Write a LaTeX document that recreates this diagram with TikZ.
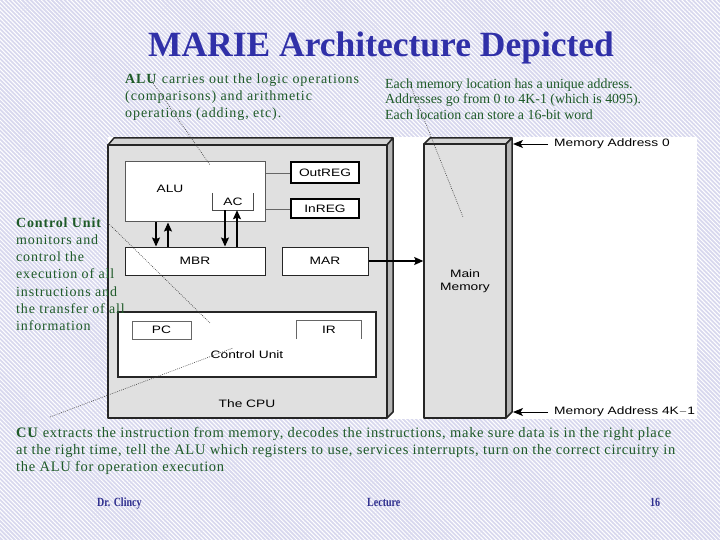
\documentclass[tikz,border=0pt]{standalone}
\usepackage{fontspec}
\setmainfont{Liberation Serif}
\newfontfamily\diagfont[FakeStretch=1.28]{Liberation Sans}
\newfontfamily\spacedfont[LetterSpace=6]{Liberation Serif}
\newfontfamily\looseserif[LetterSpace=6.5]{Liberation Serif}
\newfontfamily\cuserif[LetterSpace=4.75]{Liberation Serif}
\newfontfamily\footfont[FakeStretch=0.8]{Liberation Serif}
\usetikzlibrary{arrows.meta,patterns.meta}
\definecolor{bgl}{HTML}{D8D8EE}
\definecolor{titleblue}{HTML}{3030A8}
\definecolor{footblue}{HTML}{2E2E8E}
\definecolor{notegreen}{HTML}{1E5A28}
\definecolor{boxgray}{HTML}{E0E0E0}
\definecolor{topgray}{HTML}{D4D4D4}
\definecolor{sidegray}{HTML}{B4B4B4}
\tikzset{
  dlabel/.style={font=\diagfont\fontsize{10.75}{13}\selectfont, inner sep=0pt, align=center},
  wbox/.style={draw=black!85, fill=white, line width=1pt, inner sep=0pt, font=\diagfont\fontsize{10.75}{13}\selectfont},
  regbox/.style={wbox, draw=black, line width=1.5pt},
  thinbox/.style={wbox, draw=black!60},
  busarrow/.style={line width=1.1pt, -{Stealth[length=9pt,width=8pt,inset=1.5pt]}},
  addrarrow/.style={line width=0.9pt, -{Stealth[length=10pt,width=8pt,inset=2.5pt]}},
  wire/.style={draw=black!60, line width=0.8pt},
  note/.style={text=notegreen, align=left, inner sep=0pt, anchor=base west},
  pointer/.style={draw=black!75, line width=0.6pt, dash pattern=on 0.8pt off 1.2pt},
  edge3d/.style={draw=black!85, line width=1.5pt, line join=round}
}
\begin{document}
\begin{tikzpicture}[x=1pt,y=-1pt]
\useasboundingbox (0,0) rectangle (720,540);
% background
\fill[bgl] (0,0) rectangle (720,540);
\fill[pattern={Lines[angle=-45,distance=3pt,line width=1pt]}, pattern color=white] (0,0) rectangle (720,540);
\fill[white] (108,137) rectangle (697,419);

% title
\node[font=\fontsize{35.5}{40}\selectfont\bfseries, text=titleblue, anchor=base, inner sep=0pt] (title) at (381,57) {MARIE Architecture Depicted};

% CPU 3D box
\filldraw[edge3d, fill=topgray] (108,145) -- (114,138) -- (393,138) -- (387,145) -- cycle;
\filldraw[edge3d, fill=sidegray] (387,145) -- (393,138) -- (393,412) -- (387,418) -- cycle;
\node[edge3d, fill=boxgray, minimum width=279pt, minimum height=273pt, inner sep=0pt] (cpu) at (247.5,281.5) {};
\node[dlabel] (cpulabel) at (247,404) {The CPU};

% ALU and AC
\node[wbox, draw=black!65, minimum width=140pt, minimum height=60pt] (alu) at (195,192) {};
\node[dlabel] (alulabel) at (170,189) {ALU};
\node[dlabel, minimum width=40pt, minimum height=17pt] (ac) at (233,201.5) {AC};
\draw[wire, draw=black!70] (ac.north west) -- (ac.south west) -- (ac.south east) -- (ac.north east);

% OutREG / InREG
\node[regbox, minimum width=68pt, minimum height=21pt] (outreg) at (325,172.5) {OutREG};
\node[regbox, minimum width=68pt, minimum height=19pt] (inreg) at (325,208.5) {InREG};
\coordinate (yout) at (0,173);
\coordinate (yin) at (0,209);
\draw[wire] (alu.east |- yout) -- (outreg.west |- yout);
\draw[wire] (alu.east |- yin) -- (inreg.west |- yin);

% MBR / MAR
\node[wbox, minimum width=140pt, minimum height=28pt] (mbr) at (195,261) {MBR};
\node[wbox, minimum width=86pt, minimum height=28pt] (mar) at (325,261) {MAR};

\coordinate (xa) at (156,0);
\coordinate (xb) at (168,0);
\coordinate (xc) at (225,0);
\coordinate (xd) at (237,0);
\draw[busarrow] (alu.south -| xa) -- (mbr.north -| xa);
\draw[busarrow] (mbr.north -| xb) -- (alu.south -| xb);
\draw[busarrow] (ac.south -| xc) -- (mbr.north -| xc);
\draw[busarrow] (mbr.north -| xd) -- (ac.south -| xd);

% Control unit
\node[wbox, line width=1.3pt, minimum width=258pt, minimum height=65pt] (cu) at (247,344.5) {};
\node[thinbox, minimum width=59pt, minimum height=18pt] (pc) at (161.5,330) {PC};
\node[dlabel, minimum width=64pt, minimum height=18pt] (ir) at (329,330) {IR};
\draw[wire, line width=1pt] (ir.south west) -- (ir.north west) -- (ir.north east) -- (ir.south east);
\node[dlabel] (culabel) at (247,355) {Control Unit};

% Main memory
\filldraw[edge3d, fill=topgray] (424,144) -- (430,138) -- (512,138) -- (506,144) -- cycle;
\filldraw[edge3d, fill=sidegray] (506,144) -- (512,138) -- (512,412) -- (506,418) -- cycle;
\node[edge3d, fill=boxgray, minimum width=82pt, minimum height=274pt, inner sep=0pt, font=\diagfont\fontsize{10.75}{12.5}\selectfont, align=center] (mem) at (465,281) {Main\\Memory};

\draw[busarrow] (mar.east) -- (mem.west |- mar.east);

% memory addresses
\node[dlabel, anchor=west, inner xsep=6pt] (ma0) at (548,144) {Memory Address 0};
\node[dlabel, anchor=west, inner xsep=6pt] (ma1) at (548,412) {Memory Address 4K$-$1};
\coordinate (m0) at (513,144);
\coordinate (m1) at (513,412);
\draw[addrarrow] (ma0.west) -- (m0);
\draw[addrarrow] (ma1.west) -- (m1);

% notes (anchor base = baseline of the last line)
\node[note, font=\looseserif\fontsize{14}{17}\selectfont] (alunote) at (125,118)
  {\textbf{ALU} carries out the logic operations\\(comparisons) and arithmetic\\operations (adding, etc).};
\node[note, font=\fontsize{13.9}{15.5}\selectfont] (memnote) at (385,119.5)
  {Each memory location has a unique address.\\Addresses go from 0 to 4K-1 (which is 4095).\\Each location can store a 16-bit word};
\node[note, font=\spacedfont\fontsize{14}{17.3}\selectfont] (cunote) at (16,330.8)
  {\textbf{Control Unit}\\monitors and\\control the\\execution of all\\instructions and\\the transfer of all\\information};
\node[note, font=\cuserif\fontsize{14.5}{17}\selectfont] (cunote2) at (16,471.5)
  {\textbf{CU} extracts the instruction from memory, decodes the instructions, make sure data is in the right place\\at the right time, tell the ALU which registers to use, services interrupts, turn on the correct circuitry in\\the ALU for operation execution};

% footer
\node[anchor=base west, inner sep=0pt, text=footblue, font=\footfont\bfseries\fontsize{12.5}{14}\selectfont] (f1) at (97,506) {Dr. Clincy};
\node[anchor=base west, inner sep=0pt, text=footblue, font=\footfont\bfseries\fontsize{12.5}{14}\selectfont] (f2) at (367,506) {Lecture};
\node[anchor=base west, inner sep=0pt, text=footblue, font=\footfont\bfseries\fontsize{12.5}{14}\selectfont] (f3) at (650,506) {16};

% pointer lines
\coordinate (p1a) at (151,80);
\coordinate (p1b) at (210,165);
\coordinate (p2a) at (410,84);
\coordinate (p2b) at (463,217);
\coordinate (p3a) at (108,223);
\coordinate (p3b) at (210,323);
\coordinate (p4a) at (50,417);
\coordinate (p4b) at (233,348);
\draw[pointer] (p1a) -- (p1b);
\draw[pointer] (p2a) -- (p2b);
\draw[pointer] (p3a) -- (p3b);
\draw[pointer] (p4a) -- (p4b);
\end{tikzpicture}
\end{document}
